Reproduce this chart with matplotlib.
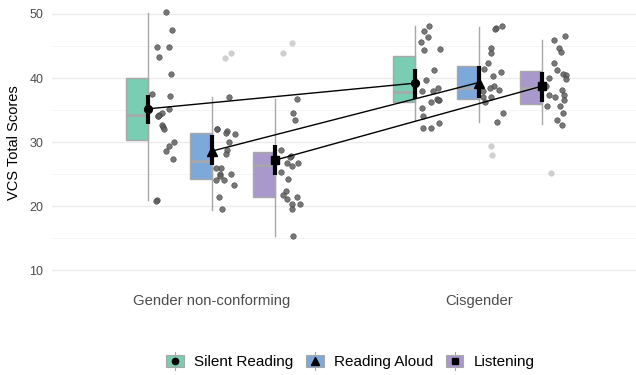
import numpy as np
import matplotlib
matplotlib.use("Agg")
import matplotlib.pyplot as plt
from matplotlib.patches import Rectangle, Patch
from matplotlib.lines import Line2D
from matplotlib.legend_handler import HandlerBase

plt.rcParams['font.family'] = ['Liberation Sans', 'DejaVu Sans']

# ---------------- data ----------------
groups = ['Gender non-conforming', 'Cisgender']
conditions = ['Silent Reading', 'Reading Aloud', 'Listening']

# individual scores (non-outlying) per group/condition
gnc_silent = [50.3, 47.5, 44.9, 44.9, 43.3, 40.6, 37.5, 37.2, 35.2, 34.6, 34.2, 34.0, 34.0,
              32.7, 32.4, 32.0, 30.0, 29.4, 28.6, 27.4, 20.9, 20.8]
gnc_aloud = [37.1, 32.0, 32.0, 31.7, 31.5, 31.2, 30.0, 28.75, 28.1, 25.9, 25.9, 25.1, 25.1,
             24.7, 24.1, 24.1, 23.3, 21.5, 19.5]
gnc_listen = [36.8, 34.6, 33.4, 28.75, 27.8, 27.7, 26.7, 26.7, 26.2, 25.3, 24.2, 22.3, 21.8,
              21.5, 21.1, 20.3, 20.3, 19.5, 15.4]
cis_silent = [48.1, 47.4, 46.4, 45.6, 44.5, 44.3, 41.2, 39.7, 38.5, 38.0, 37.9, 36.8, 36.5,
              36.5, 36.3, 35.3, 34.0, 33.0, 32.2, 32.2]
cis_aloud = [48.1, 47.8, 47.6, 44.7, 43.9, 42.3, 41.4, 40.9, 40.3, 38.75, 38.4, 38.1, 37.9,
             37.1, 37.0, 36.3, 34.5, 33.2]
cis_listen = [46.5, 45.9, 44.7, 44.0, 42.3, 41.2, 40.7, 40.5, 40.0, 39.9, 38.8, 38.1, 37.3,
              37.3, 37.0, 36.6, 35.7, 35.7, 34.6, 33.4, 32.7]

# boxplot outliers
gnc_silent_out = []
gnc_aloud_out = [43.9, 43.1]
gnc_listen_out = [45.4, 43.9]
cis_silent_out = []
cis_aloud_out = [29.4, 28.0]
cis_listen_out = [25.2]

# box statistics: [group][condition]
q1 = [[30.4, 24.3, 21.5], [36.2, 36.8, 35.9]]
median = [[34.3, 27.0, 26.4], [37.8, 38.5, 38.5]]
q3 = [[40.0, 31.5, 28.5], [43.5, 41.8, 41.1]]
whisk_lo = [[20.9, 19.4, 15.4], [33.5, 33.2, 32.8]]
whisk_hi = [[50.2, 37.1, 36.8], [48.1, 48.0, 46.0]]

# means and interval limits
means = [[35.2, 28.6, 27.2], [39.2, 39.3, 38.75]]
ci_lo = [[32.8, 26.4, 24.8], [36.8, 36.9, 36.3]]
ci_hi = [[37.4, 31.1, 29.5], [41.4, 41.9, 40.9]]

yticks = [10, 20, 30, 40, 50]

# ---------------- styling ----------------
fills = ['#79CDB3', '#7DA8DA', '#A898CC']
markers = ['o', '^', 's']
msizes = [5.6, 6.6, 5.6]
grey = '#A8A8A8'

points = [[gnc_silent, gnc_aloud, gnc_listen], [cis_silent, cis_aloud, cis_listen]]
outliers = [[gnc_silent_out, gnc_aloud_out, gnc_listen_out],
            [cis_silent_out, cis_aloud_out, cis_listen_out]]

dodge = 0.238
box_w = 0.083

fig = plt.figure(figsize=(6.36, 3.75), dpi=100)
ax = fig.add_axes([0.0814, 0.245, 0.923, 0.752])

rng = np.random.default_rng(7)

for g in range(2):
    for c in range(3):
        xw = (g + 1) + (c - 1) * dodge
        # box (left half)
        ax.add_patch(Rectangle((xw - box_w, q1[g][c]), box_w, q3[g][c] - q1[g][c],
                               facecolor=fills[c], edgecolor=grey, lw=1.0, zorder=2))
        ax.plot([xw - box_w, xw], [median[g][c]] * 2, color=grey, lw=1.8, zorder=2.1,
                solid_capstyle='butt')
        # whisker line
        ax.plot([xw, xw], [whisk_lo[g][c], whisk_hi[g][c]], color=grey, lw=1.0, zorder=2.2)
        # jittered points
        vals = np.array(points[g][c])
        jx = xw + rng.uniform(0.015, 0.095, len(vals))
        ax.plot(jx, vals, 'o', ms=4.0, mfc='#5f5f5f', mec='#3c3c3c', mew=0.4,
                alpha=0.85, zorder=3)
        outs = np.array(outliers[g][c])
        if len(outs):
            ox = xw + rng.uniform(0.02, 0.08, len(outs))
            ax.plot(ox, outs, 'o', ms=4.0, mfc='#CFCFCF', mec='#CFCFCF', mew=0.4, zorder=3)

# lines connecting means between groups
for c in range(3):
    xs = [1 + (c - 1) * dodge, 2 + (c - 1) * dodge]
    ax.plot(xs, [means[0][c], means[1][c]], color='black', lw=1.0, zorder=4)

# error bars and means
for g in range(2):
    for c in range(3):
        xw = (g + 1) + (c - 1) * dodge
        ax.plot([xw, xw], [ci_lo[g][c], ci_hi[g][c]], color='black', lw=3.0, zorder=5,
                solid_capstyle='butt')
        ax.plot([xw], [means[g][c]], marker=markers[c], ms=msizes[c], color='black',
                linestyle='none', zorder=6)

ax.set_xlim(0.4, 2.6)
ax.set_ylim(8, 52)
ax.set_xticks([1, 2])
ax.set_xticklabels(groups, fontsize=10.7, color='#4D4D4D')
ax.set_yticks(yticks)
ax.set_yticks([15, 25, 35, 45], minor=True)
ax.tick_params(axis='y', labelsize=9, colors='#4D4D4D', length=0, pad=6)
ax.tick_params(axis='y', which='minor', length=0)
ax.tick_params(axis='x', length=0, pad=8)
ax.grid(axis='y', which='major', color='#EBEBEB', lw=1.0, zorder=0)
ax.grid(axis='y', which='minor', color='#F3F3F3', lw=0.6, zorder=0)
ax.set_axisbelow(True)
for s in ax.spines.values():
    s.set_visible(False)
ax.set_ylabel('VCS Total Scores', fontsize=10.5, color='black', labelpad=6)


class KeyHandler(HandlerBase):
    def __init__(self, fill, marker, ms):
        super().__init__()
        self.fill = fill
        self.marker = marker
        self.ms = ms

    def create_artists(self, legend, orig_handle, xdescent, ydescent, width, height,
                       fontsize, trans):
        r = Rectangle((-xdescent, -ydescent), width, height, facecolor=self.fill,
                      edgecolor=grey, lw=0.8, transform=trans)
        cx = -xdescent + width / 2
        cy = -ydescent + height / 2
        vl = Line2D([cx, cx], [-ydescent - 2, -ydescent + height + 2], color=grey, lw=0.8,
                    transform=trans)
        m = Line2D([cx], [cy], marker=self.marker, ms=self.ms, color='black',
                   linestyle='none', transform=trans)
        return [r, vl, m]


handles = [Patch(label=conditions[i]) for i in range(3)]
hmap = {handles[i]: KeyHandler(fills[i], markers[i], [4.5, 5.2, 4.5][i]) for i in range(3)}
fig.legend(handles=handles, labels=conditions, handler_map=hmap, loc='center',
           bbox_to_anchor=(0.551, 0.035), ncol=3, frameon=False, fontsize=11,
           handlelength=1.15, handleheight=0.9, handletextpad=0.65, columnspacing=0.85)

fig.savefig('out.png', dpi=100)
